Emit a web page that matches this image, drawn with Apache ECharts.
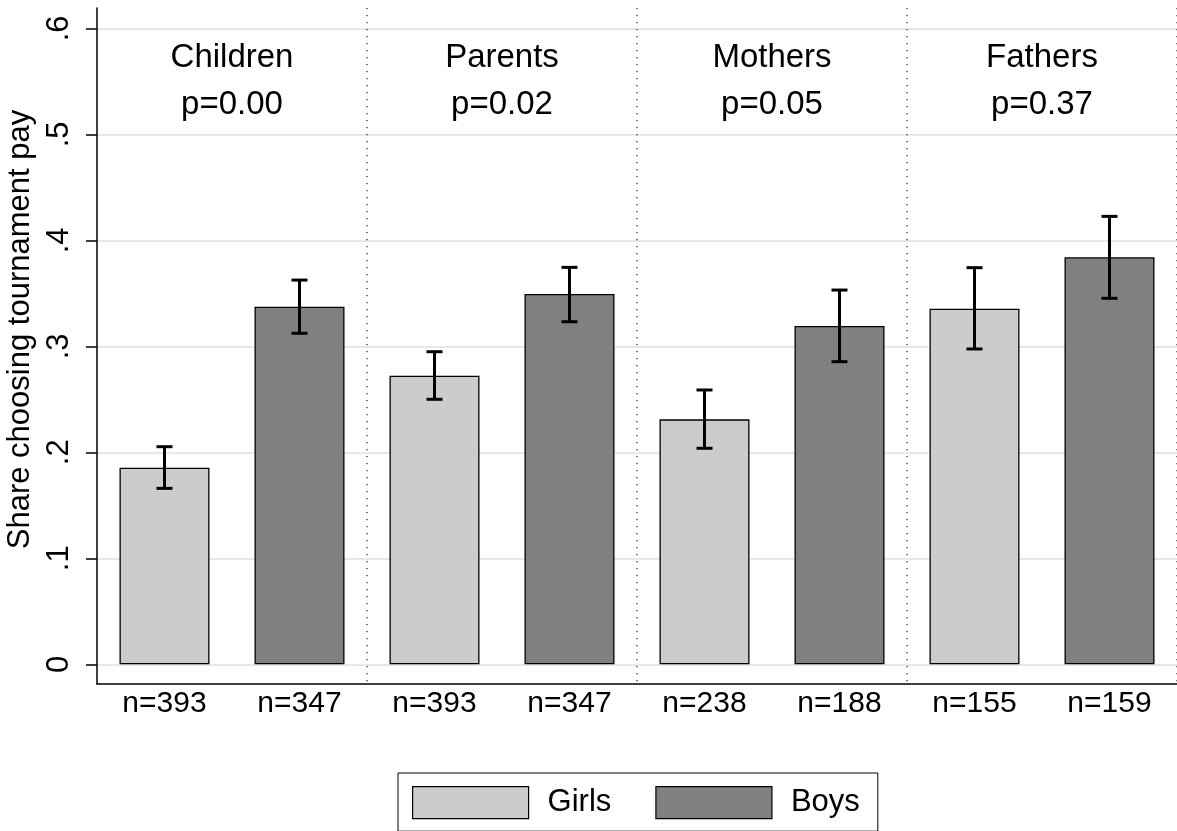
<!DOCTYPE html>
<html>
<head>
<meta charset="utf-8">
<title>Share choosing tournament pay</title>
<script src="https://cdn.jsdelivr.net/npm/echarts@6/dist/echarts.min.js"></script>
<style>
  html, body { margin: 0; padding: 0; background: #fff; }
  #chart { width: 1177px; height: 831px; }
</style>
</head>
<body>
<div id="chart"></div>
<script>
// Groups and their test p-values
const groups = ['Children', 'Parents', 'Mothers', 'Fathers'];
const pValues = ['p=0.00', 'p=0.02', 'p=0.05', 'p=0.37'];

// Sample sizes per group
const girlsN = [393, 393, 238, 155];
const boysN = [347, 347, 188, 159];

// Share choosing tournament pay, with confidence bounds
const girlsShare = [0.1855, 0.2723, 0.2311, 0.3355];
const boysShare = [0.3374, 0.3493, 0.3191, 0.3840];
const girlsLow = [0.1660, 0.2500, 0.2038, 0.2975];
const girlsHigh = [0.2053, 0.2949, 0.2588, 0.3742];
const boysLow = [0.3123, 0.3232, 0.2855, 0.3453];
const boysHigh = [0.3625, 0.3745, 0.3531, 0.4226];

// Y axis ticks
const yTickValues = [0, 0.1, 0.2, 0.3, 0.4, 0.5, 0.6];
const yTickLabels = ['0', '.1', '.2', '.3', '.4', '.5', '.6'];

const FONT = "'Liberation Sans', Arial, Helvetica, sans-serif";

// Two bars per group: girls then boys
const slots = [];
const slotLabels = [];
const girlsBars = [];
const boysBars = [];
const errorBars = [];
groups.forEach((g, i) => {
  const gi = slots.length;
  slots.push(g + ' girls');
  slotLabels.push('n=' + girlsN[i]);
  girlsBars.push(girlsShare[i]);
  boysBars.push(null);
  errorBars.push([gi, girlsLow[i], girlsHigh[i]]);

  const bi = slots.length;
  slots.push(g + ' boys');
  slotLabels.push('n=' + boysN[i]);
  girlsBars.push(null);
  boysBars.push(boysShare[i]);
  errorBars.push([bi, boysLow[i], boysHigh[i]]);
});

const groupLabels = groups.map((g, i) => g + '\n' + pValues[i]);

const chart = echarts.init(document.getElementById('chart'), null, { renderer: 'canvas' });

const option = {
  backgroundColor: '#ffffff',
  animation: false,
  textStyle: { fontFamily: FONT, color: '#000' },
  grid: { left: 97, right: 0, top: 8, bottom: 147, containLabel: false, outerBoundsMode: 'none' },
  legend: {
    data: ['Girls', 'Boys'],
    left: 398,
    top: 773,
    orient: 'horizontal',
    itemWidth: 116,
    itemHeight: 32,
    itemGap: 44,
    icon: 'rect',
    borderColor: '#000',
    borderWidth: 1,
    borderRadius: 0,
    padding: [13, 18, 12, 14],
    itemStyle: { borderColor: '#000', borderWidth: 1.2 },
    textStyle: { fontFamily: FONT, fontSize: 31, color: '#000', padding: [0, 0, 0, 14] }
  },
  xAxis: [
    {
      type: 'category',
      data: slots,
      position: 'bottom',
      boundaryGap: true,
      axisLine: { show: true, onZero: false, lineStyle: { color: '#000', width: 1.5 } },
      axisTick: { show: false },
      axisLabel: {
        fontFamily: FONT,
        fontSize: 30,
        color: '#000',
        margin: 5,
        interval: 0,
        formatter: (v, idx) => slotLabels[idx]
      },
      splitLine: {
        show: true,
        interval: (idx) => idx === 2 || idx === 4 || idx === 6,
        lineStyle: { color: '#5a5a5a', width: 1.6, type: [1.2, 5.8] }
      }
    },
    {
      type: 'category',
      data: groupLabels,
      position: 'top',
      boundaryGap: true,
      axisLine: { show: false },
      axisTick: { show: false },
      splitLine: { show: false },
      axisLabel: {
        inside: true,
        interval: 0,
        margin: 26,
        fontFamily: FONT,
        fontSize: 33,
        lineHeight: 47.5,
        color: '#000',
        align: 'center'
      }
    }
  ],
  yAxis: {
    type: 'value',
    min: -0.0186,
    max: 0.6192,
    name: 'Share choosing tournament pay',
    nameLocation: 'middle',
    nameGap: 53,
    nameTextStyle: { fontFamily: FONT, fontSize: 31, color: '#000', padding: [0, 0, 0, 33] },
    axisLine: { show: true, lineStyle: { color: '#000', width: 1.5 } },
    axisTick: {
      show: true,
      length: 11,
      customValues: yTickValues,
      lineStyle: { color: '#000', width: 1.5 }
    },
    axisLabel: {
      customValues: yTickValues,
      rotate: 90,
      margin: 22,
      fontFamily: FONT,
      fontSize: 31,
      color: '#000',
      formatter: (v) => {
        const k = yTickValues.findIndex(t => Math.abs(t - v) < 1e-9);
        return k >= 0 ? yTickLabels[k] : '';
      }
    },
    splitLine: { show: true, lineStyle: { color: '#e8e8e8', width: 2 } }
  },
  series: [
    {
      name: 'Girls',
      type: 'bar',
      xAxisIndex: 0,
      data: girlsBars,
      barWidth: 90,
      barGap: '-100%',
      itemStyle: { color: '#cccccc', borderColor: '#000', borderWidth: 1.3 },
      z: 2
    },
    {
      name: 'Boys',
      type: 'bar',
      xAxisIndex: 0,
      data: boysBars,
      barWidth: 90,
      barGap: '-100%',
      itemStyle: { color: '#808080', borderColor: '#000', borderWidth: 1.3 },
      z: 2
    },
    {
      name: 'ci',
      type: 'custom',
      xAxisIndex: 0,
      data: errorBars,
      encode: { x: 0, y: [1, 2] },
      z: 5,
      renderItem: (params, api) => {
        const x = api.value(0);
        const lo = api.coord([x, api.value(1)]);
        const hi = api.coord([x, api.value(2)]);
        const cap = 8;
        const style = { stroke: '#000', lineWidth: 3 };
        return {
          type: 'group',
          children: [
            { type: 'line', shape: { x1: lo[0], y1: lo[1], x2: hi[0], y2: hi[1] }, style },
            { type: 'line', shape: { x1: hi[0] - cap, y1: hi[1], x2: hi[0] + cap, y2: hi[1] }, style },
            { type: 'line', shape: { x1: lo[0] - cap, y1: lo[1], x2: lo[0] + cap, y2: lo[1] }, style }
          ]
        };
      }
    }
  ]
};

chart.setOption(option);
</script>
</body>
</html>
